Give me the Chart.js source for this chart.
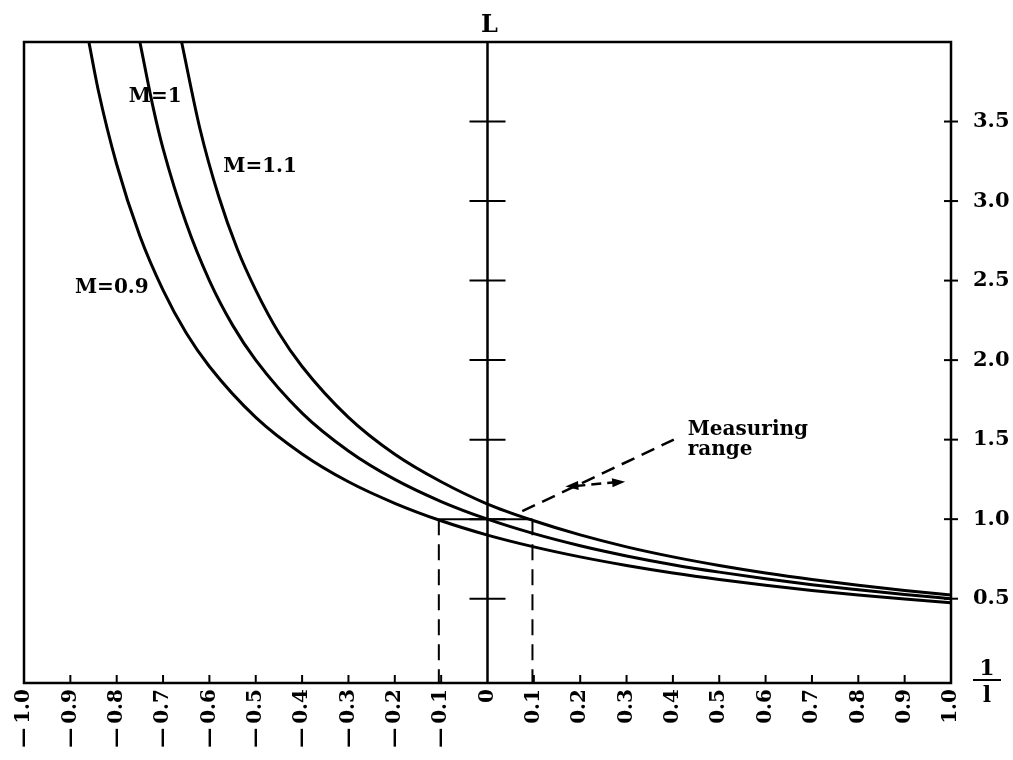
<!DOCTYPE html>
<html>
<head>
<meta charset="utf-8">
<title>L vs 1/l</title>
<script src="https://cdn.jsdelivr.net/npm/chart.js@4.4.1/dist/chart.umd.min.js"></script>
<style>
    body { margin: 0; background: #fff; }
    #chart { display: block; }
</style>
</head>
<body>
<canvas id="chart" width="1013" height="760"></canvas>
<script>
// curve M=0.9
const m09X = [-0.86, -0.84, -0.80, -0.75, -0.70, -0.65, -0.60, -0.50, -0.40, -0.30, -0.20, -0.10, 0.00, 0.10, 0.20, 0.30, 0.40, 0.50, 0.60, 0.70, 0.80, 0.90, 1.00];
const m09L = [4.00, 3.70, 3.23, 2.78, 2.44, 2.17, 1.96, 1.64, 1.41, 1.235, 1.10, 0.99, 0.90, 0.826, 0.763, 0.709, 0.662, 0.621, 0.585, 0.552, 0.524, 0.498, 0.474];
// curve M=1
const m10X = [-0.75, -0.72, -0.70, -0.65, -0.60, -0.55, -0.50, -0.40, -0.30, -0.20, -0.10, 0.00, 0.10, 0.20, 0.30, 0.40, 0.50, 0.60, 0.70, 0.80, 0.90, 1.00];
const m10L = [4.00, 3.57, 3.33, 2.86, 2.50, 2.22, 2.00, 1.667, 1.429, 1.25, 1.111, 1.00, 0.909, 0.833, 0.769, 0.714, 0.667, 0.625, 0.588, 0.556, 0.526, 0.50];
// curve M=1.1
const m11X = [-0.66, -0.62, -0.58, -0.54, -0.50, -0.45, -0.40, -0.30, -0.20, -0.10, 0.00, 0.10, 0.20, 0.30, 0.40, 0.50, 0.60, 0.70, 0.80, 0.90, 1.00];
const m11L = [4.00, 3.45, 3.03, 2.70, 2.44, 2.17, 1.96, 1.64, 1.408, 1.235, 1.095, 0.99, 0.901, 0.826, 0.763, 0.709, 0.662, 0.621, 0.585, 0.552, 0.524];

const xTicks = [-1.0, -0.9, -0.8, -0.7, -0.6, -0.5, -0.4, -0.3, -0.2, -0.1, 0, 0.1, 0.2, 0.3, 0.4, 0.5, 0.6, 0.7, 0.8, 0.9, 1.0];
const yTicks = [0.5, 1.0, 1.5, 2.0, 2.5, 3.0, 3.5];

// measuring range
const rangeLo = -0.105;
const rangeHi = 0.097;
const rangeLevel = 1.0;

const serif = '"DejaVu Serif", "Liberation Serif", serif';

function toPoints(xs, ls) {
    return xs.map((v, i) => ({ x: v, y: ls[i] }));
}

function seg(ctx, x1, y1, x2, y2) {
    ctx.beginPath();
    ctx.moveTo(x1, y1);
    ctx.lineTo(x2, y2);
    ctx.stroke();
}

function arrowHead(ctx, fromX, fromY, toX, toY) {
    const ang = Math.atan2(toY - fromY, toX - fromX);
    const len = 13, half = 4.5;
    ctx.beginPath();
    ctx.moveTo(toX, toY);
    ctx.lineTo(toX - len * Math.cos(ang) + half * Math.sin(ang), toY - len * Math.sin(ang) - half * Math.cos(ang));
    ctx.lineTo(toX - len * Math.cos(ang) - half * Math.sin(ang), toY - len * Math.sin(ang) + half * Math.cos(ang));
    ctx.closePath();
    ctx.fill();
}

const overlay = {
    id: 'overlay',
    afterDraw(chart) {
        const { ctx, chartArea: a, scales: { x, y } } = chart;
        ctx.save();
        ctx.strokeStyle = '#000';
        ctx.fillStyle = '#000';

        // frame
        ctx.lineWidth = 2.5;
        ctx.strokeRect(a.left, a.top, a.right - a.left, a.bottom - a.top);

        // L axis through x = 0
        const x0 = x.getPixelForValue(0);
        ctx.lineWidth = 2.5;
        seg(ctx, x0, a.top, x0, a.bottom);
        ctx.lineWidth = 2;
        yTicks.forEach(v => {
            const py = y.getPixelForValue(v);
            seg(ctx, x0 - 18, py, x0 + 18, py);
            seg(ctx, a.right - 7, py, a.right + 7, py);
        });
        xTicks.forEach(v => {
            if (v === 0 || Math.abs(v) === 1) return;
            const px = x.getPixelForValue(v);
            seg(ctx, px, a.bottom, px, a.bottom - 8);
        });

        // measuring range box
        const pLo = x.getPixelForValue(rangeLo);
        const pHi = x.getPixelForValue(rangeHi);
        const pLev = y.getPixelForValue(rangeLevel);
        ctx.lineWidth = 2;
        seg(ctx, pLo, pLev, pHi, pLev);
        ctx.setLineDash([16, 9]);
        seg(ctx, pLo, pLev, pLo, a.bottom);
        seg(ctx, pHi, pLev, pHi, a.bottom);

        // leader to the note
        ctx.lineWidth = 2.5;
        ctx.setLineDash([14, 8]);
        seg(ctx, x.getPixelForValue(0.075), y.getPixelForValue(1.05), x.getPixelForValue(0.402), y.getPixelForValue(1.50));

        // double arrow
        const ax1 = x.getPixelForValue(0.168), ay1 = y.getPixelForValue(1.205);
        const ax2 = x.getPixelForValue(0.297), ay2 = y.getPixelForValue(1.235);
        ctx.setLineDash([10, 6]);
        ctx.lineWidth = 2.5;
        seg(ctx, ax1 + 10, ay1 - 0.5, ax2 - 10, ay2 + 0.5);
        ctx.setLineDash([]);
        arrowHead(ctx, ax2, ay2, ax1, ay1);
        arrowHead(ctx, ax1, ay1, ax2, ay2);

        // curve labels and note
        ctx.textAlign = 'left';
        ctx.textBaseline = 'alphabetic';
        ctx.font = 'bold 20px ' + serif;
        ctx.fillText('M=1', x.getPixelForValue(-0.774), y.getPixelForValue(3.62));
        ctx.fillText('M=1.1', x.getPixelForValue(-0.570), y.getPixelForValue(3.18));
        ctx.fillText('M=0.9', x.getPixelForValue(-0.890), y.getPixelForValue(2.42));
        ctx.fillText('Measuring', x.getPixelForValue(0.432), y.getPixelForValue(1.529));
        ctx.fillText('range', x.getPixelForValue(0.432), y.getPixelForValue(1.403));

        // axis titles
        ctx.textAlign = 'center';
        ctx.font = 'bold 24px ' + serif;
        ctx.fillText('L', x0 + 2, a.top - 10);
        const fx = a.right + 36;
        ctx.font = 'bold 22px ' + serif;
        ctx.fillText('1', fx, a.bottom - 8);
        ctx.lineWidth = 2;
        seg(ctx, fx - 14, a.bottom - 3, fx + 14, a.bottom - 3);
        ctx.fillText('l', fx, a.bottom + 19);

        ctx.restore();
    }
};

const lineStyle = {
    borderColor: '#000',
    borderWidth: 3,
    pointRadius: 0,
    showLine: true,
    fill: false,
    cubicInterpolationMode: 'monotone'
};

new Chart(document.getElementById('chart').getContext('2d'), {
    type: 'scatter',
    data: {
        datasets: [
            Object.assign({ label: 'M=0.9', data: toPoints(m09X, m09L) }, lineStyle),
            Object.assign({ label: 'M=1', data: toPoints(m10X, m10L) }, lineStyle),
            Object.assign({ label: 'M=1.1', data: toPoints(m11X, m11L) }, lineStyle)
        ]
    },
    options: {
        responsive: false,
        animation: false,
        layout: { padding: { left: 24, top: 42, right: 0, bottom: 0 } },
        plugins: {
            legend: { display: false },
            tooltip: { enabled: false }
        },
        scales: {
            x: {
                type: 'linear',
                min: -1,
                max: 1,
                afterBuildTicks: s => { s.ticks = xTicks.map(v => ({ value: v })); },
                afterFit: s => { s.height = 77; },
                grid: { display: false, drawTicks: false },
                border: { display: false },
                ticks: {
                    autoSkip: false,
                    minRotation: 90,
                    maxRotation: 90,
                    padding: 6,
                    color: '#000',
                    font: { family: serif, size: 20, weight: 'bold' },
                    callback: v => v === 0 ? '0' : (v < 0 ? '\u2014\u2009' : '') + Math.abs(v).toFixed(1)
                }
            },
            y: {
                type: 'linear',
                position: 'right',
                min: -0.03,
                max: 4.0,
                afterBuildTicks: s => { s.ticks = yTicks.map(v => ({ value: v })); },
                afterFit: s => { s.width = 62; },
                grid: { display: false, drawTicks: false },
                border: { display: false },
                ticks: {
                    padding: 22,
                    color: '#000',
                    font: { family: serif, size: 21, weight: 'bold' },
                    callback: v => v.toFixed(1)
                }
            }
        }
    },
    plugins: [overlay]
});
</script>
</body>
</html>
